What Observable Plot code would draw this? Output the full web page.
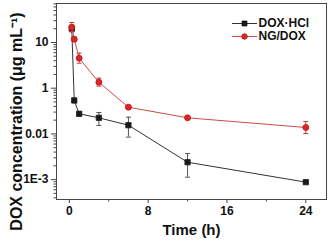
<!DOCTYPE html>
<html><head><meta charset="utf-8">
<script src="https://cdn.jsdelivr.net/npm/d3@7"></script>
<script src="https://cdn.jsdelivr.net/npm/@observablehq/plot@0.6"></script>
<style>body{margin:0;background:#fff}</style>
</head><body><div id="chart"></div>
<script>
// Data
const seriesNames = ["DOX·HCl", "NG/DOX"];
const time = [0.25, 0.5, 1, 3, 6, 12, 24];
const doxHcl = [20, 0.54, 0.275, 0.225, 0.155, 0.024, 0.0088];
const doxHclLow = [17, 0.48, 0.25, 0.153, 0.085, 0.0113, 0.0083];
const doxHclHigh = [24, 0.6, 0.3, 0.294, 0.232, 0.0372, 0.0093];
const ngDox = [21.6, 11.8, 4.53, 1.35, 0.384, 0.225, 0.138];
const ngDoxLow = [17.4, 10.6, 3.52, 1.11, 0.36, 0.212, 0.102];
const ngDoxHigh = [27.4, 13.0, 5.84, 1.66, 0.41, 0.24, 0.187];
const xTickValues = [0, 8, 16, 24];
const xMinorTicks = [4, 12, 20];
const yTickValues = [10, 1, 0.1, 0.01];
const yTickLabels = ["10", "1", "0.01", "1E-3"];
const xLabel = "Time (h)";
const yLabel = "DOX concentration (μg mL⁻¹)";

const colors = {"DOX·HCl": "#1a1a1a", "NG/DOX": "#e02424"};
const lineColors = {"DOX·HCl": "#333333", "NG/DOX": "#cf4a4a"};
const barColors = {"DOX·HCl": "#555555", "NG/DOX": "#b84040"};

const rows = [];
time.forEach((t, i) => {
  rows.push({series: seriesNames[0], time: t, value: doxHcl[i], low: doxHclLow[i], high: doxHclHigh[i]});
});
time.forEach((t, i) => {
  rows.push({series: seriesNames[1], time: t, value: ngDox[i], low: ngDoxLow[i], high: ngDoxHigh[i]});
});
const black = rows.filter(d => d.series === seriesNames[0]);
const red = rows.filter(d => d.series === seriesNames[1]);

const yDomain = [0.00367, 71.3];
const yMinor = [];
for (let e = -3; e <= 1; e++) for (let k = 2; k <= 9; k++) {
  const v = k * Math.pow(10, e);
  if (v >= yDomain[0] && v <= yDomain[1]) yMinor.push(v);
}

const capSymbol = {draw(ctx, size) { const w = Math.sqrt(size / Math.PI); ctx.moveTo(-w, 0); ctx.lineTo(w, 0); }};
const lineSymbol = capSymbol;

const font = "'Liberation Sans', Arial, sans-serif";

function seriesMarks(data, name, symbol) {
  return [
    Plot.ruleX(data, {x: "time", y1: "low", y2: "high", stroke: barColors[name], strokeWidth: 1}),
    Plot.dot(data, {x: "time", y: "low", symbol: capSymbol, r: 2.5, stroke: barColors[name], strokeWidth: 1}),
    Plot.dot(data, {x: "time", y: "high", symbol: capSymbol, r: 2.5, stroke: barColors[name], strokeWidth: 1}),
    Plot.line(data, {x: "time", y: "value", stroke: lineColors[name], strokeWidth: 1}),
    Plot.dot(data, {x: "time", y: "value", symbol, r: 3, fill: colors[name], stroke: name === "NG/DOX" ? "#b81818" : colors[name], strokeWidth: 0.8})
  ];
}

function legendRow(name, symbol, dy) {
  return [
    Plot.dot([name], {frameAnchor: "top-right", dx: -82, dy, symbol: lineSymbol, r: 12.5, stroke: lineColors[name], strokeWidth: 1}),
    Plot.dot([name], {frameAnchor: "top-right", dx: -82, dy, symbol, r: 2.8, fill: colors[name], stroke: name === "NG/DOX" ? "#b81818" : colors[name], strokeWidth: 0.8}),
    Plot.text([name], {frameAnchor: "top-right", dx: -68, dy, text: d => d, textAnchor: "start", lineAnchor: "middle", fontSize: 12, fontWeight: "bold", fill: "#111"})
  ];
}

const chart = Plot.plot({
  width: 328,
  height: 243,
  marginLeft: 56,
  marginRight: 2,
  marginTop: 3,
  marginBottom: 44,
  style: {fontFamily: font, background: "#fff", color: "#111"},
  x: {domain: [-1.3, 26.1]},
  y: {type: "log", domain: yDomain},
  marks: [
    Plot.frame({stroke: "#444", strokeWidth: 1}),
    Plot.axisX(xTickValues, {tickSize: 4, tickPadding: 3, fontSize: 12, fontWeight: "bold", label: null, stroke: "#444", fill: "#111"}),
    Plot.axisX(xMinorTicks, {tickSize: 2.5, text: null, label: null, stroke: "#444"}),
    Plot.axisY(yTickValues, {tickSize: 5, tickPadding: 3, fontSize: 12, fontWeight: "bold", label: null, stroke: "#444", fill: "#111",
      tickFormat: d => yTickLabels[yTickValues.indexOf(d)]}),
    Plot.axisY(yMinor, {tickSize: 2.5, text: null, label: null, stroke: "#444"}),
    ...seriesMarks(black, seriesNames[0], "square"),
    ...seriesMarks(red, seriesNames[1], "circle"),
    ...legendRow(seriesNames[0], "square", 20),
    ...legendRow(seriesNames[1], "circle", 33),
    Plot.text([xLabel], {frameAnchor: "bottom", dy: 31, text: d => d, textAnchor: "middle", lineAnchor: "middle", fontSize: 15, fontWeight: "bold", fill: "#111"}),
    Plot.text([yLabel], {frameAnchor: "left", dx: -40, dy: 20, rotate: -90, text: d => d, textAnchor: "middle", lineAnchor: "middle", fontSize: 16, fontWeight: "bold", fill: "#111"})
  ]
});
document.getElementById("chart").appendChild(chart);
</script>
</body></html>
